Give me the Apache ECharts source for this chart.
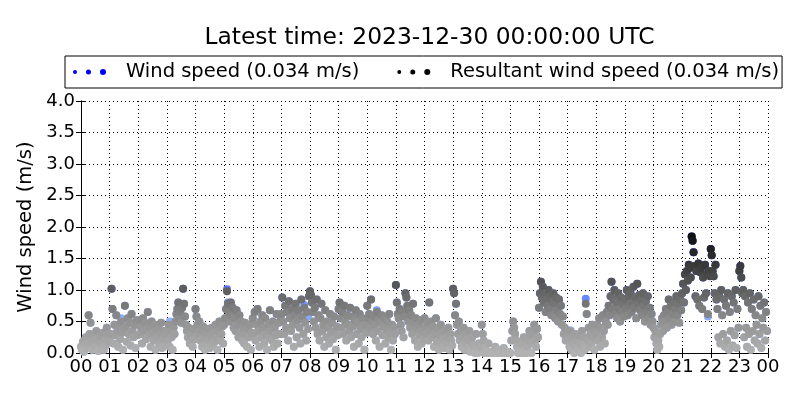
<!DOCTYPE html>
<html>
<head>
<meta charset="utf-8">
<script src="https://cdn.jsdelivr.net/npm/echarts@6/dist/echarts.min.js"></script>
<style>html,body{margin:0;padding:0;background:#fff}#c{width:800px;height:400px}</style>
</head>
<body>
<div id="c"></div>
<script>
// Tick labels (hours, UTC)
const hourTicks = ['00','01','02','03','04','05','06','07','08','09','10','11','12','13','14','15','16','17','18','19','20','21','22','23','00'];
const yTicks = [0, 0.5, 1.0, 1.5, 2.0, 2.5, 3.0, 3.5, 4.0];
const samplesPerHour = 30;

// Resultant wind speed (m/s), 30 samples per hour, one row per hour 00 .. 23
const resultantSpeed = [
  0.10,0.05,0.18,0.02,0.12,0.25,0.08,0.15,0.60,0.30,0.48,0.20,0.05,0.28,0.12,0.22,0.35,0.10,0.03,0.18,0.26,0.08,0.15,0.32,0.05,0.20,0.12,0.40,0.28,0.18,
  0.20,0.30,1.02,0.70,0.15,0.45,0.28,0.60,0.35,0.10,0.40,0.22,0.50,0.32,0.05,0.38,0.75,0.42,0.18,0.55,0.30,0.48,0.12,0.62,0.35,0.25,0.45,0.08,0.52,0.28,
  0.45,0.52,0.30,0.40,0.15,0.55,0.35,0.48,0.22,0.38,0.65,0.28,0.42,0.10,0.50,0.32,0.20,0.45,0.05,0.35,0.25,0.40,0.15,0.30,0.48,0.08,0.22,0.35,0.12,0.28,
  0.30,0.20,0.45,0.10,0.35,0.25,0.05,0.40,0.30,0.50,0.62,0.70,0.80,0.55,0.65,0.48,0.72,1.02,0.78,0.58,0.45,0.35,0.25,0.40,0.15,0.30,0.20,0.10,0.38,0.22,
  0.70,0.58,0.45,0.30,0.50,0.20,0.35,0.10,0.42,0.25,0.05,0.30,0.15,0.38,0.22,0.08,0.28,0.40,0.12,0.32,0.18,0.45,0.25,0.05,0.35,0.50,0.20,0.30,0.42,0.15,
  0.45,0.55,0.70,0.98,0.78,0.65,0.50,0.80,0.60,0.72,0.40,0.55,0.35,0.68,0.45,0.25,0.60,0.30,0.50,0.20,0.40,0.15,0.48,0.30,0.10,0.38,0.25,0.45,0.05,0.32,
  0.55,0.30,0.65,0.20,0.45,0.70,0.35,0.10,0.50,0.25,0.60,0.40,0.15,0.55,0.30,0.05,0.45,0.25,0.68,0.35,0.20,0.50,0.10,0.40,0.28,0.62,0.15,0.48,0.30,0.58,
  0.62,0.88,0.50,0.30,0.75,0.40,0.65,0.20,0.82,0.55,0.35,0.70,0.45,0.10,0.60,0.78,0.25,0.52,0.68,0.40,0.15,0.85,0.58,0.30,0.72,0.48,0.20,0.65,0.38,0.90,
  0.98,0.92,0.80,0.65,0.50,0.72,0.40,0.85,0.30,0.60,0.20,0.55,0.78,0.35,0.45,0.10,0.68,0.25,0.50,0.40,0.15,0.62,0.30,0.48,0.22,0.58,0.35,0.05,0.42,0.28,
  0.70,0.80,0.55,0.40,0.65,0.30,0.75,0.50,0.20,0.60,0.45,0.35,0.72,0.25,0.58,0.42,0.10,0.52,0.68,0.30,0.48,0.15,0.62,0.38,0.25,0.55,0.40,0.05,0.45,0.32,
  0.75,0.55,0.62,0.40,0.85,0.50,0.30,0.58,0.45,0.20,0.65,0.35,0.52,0.10,0.48,0.60,0.28,0.42,0.55,0.15,0.38,0.50,0.25,0.62,0.32,0.05,0.45,0.20,0.40,0.30,
  1.08,0.80,0.62,0.55,0.70,0.45,0.35,0.65,0.25,0.58,0.95,0.88,0.75,0.50,0.68,0.40,0.60,0.30,0.78,0.48,0.20,0.55,0.38,0.10,0.45,0.28,0.52,0.15,0.35,0.22,
  0.55,0.40,0.30,0.48,0.20,0.80,0.35,0.50,0.25,0.42,0.10,0.30,0.55,0.18,0.38,0.05,0.28,0.45,0.12,0.32,0.22,0.08,0.35,0.15,0.25,0.40,0.05,0.30,0.20,0.12,
  1.02,0.95,0.60,0.78,0.45,0.30,0.50,0.20,0.35,0.10,0.25,0.40,0.05,0.30,0.15,0.22,0.08,0.35,0.02,0.18,0.25,0.05,0.12,0.00,0.30,0.08,0.00,0.15,0.02,0.10,
  0.45,0.30,0.20,0.00,0.05,0.00,0.00,0.15,0.00,0.00,0.02,0.00,0.00,0.00,0.10,0.00,0.00,0.00,0.05,0.00,0.00,0.00,0.00,0.08,0.00,0.00,0.00,0.02,0.00,0.00,
  0.00,0.20,0.35,0.50,0.40,0.30,0.20,0.10,0.00,0.05,0.00,0.00,0.15,0.00,0.25,0.00,0.05,0.00,0.10,0.20,0.35,0.28,0.00,0.15,0.30,0.45,0.20,0.10,0.38,0.25,
  0.72,0.95,1.13,0.88,1.05,0.80,0.92,0.65,0.85,0.75,1.00,0.70,0.90,0.60,0.82,0.95,0.78,0.55,0.88,0.68,0.50,0.85,0.62,0.75,0.45,0.58,0.30,0.40,0.20,0.35,
  0.30,0.20,0.10,0.35,0.05,0.25,0.15,0.00,0.30,0.10,0.20,0.05,0.28,0.15,0.00,0.35,0.10,0.25,0.05,0.78,0.62,0.20,0.40,0.10,0.30,0.15,0.45,0.25,0.05,0.35,
  0.30,0.45,0.20,0.55,0.10,0.40,0.25,0.60,0.35,0.15,0.50,0.65,0.45,0.75,0.60,0.90,1.13,0.70,0.85,1.00,0.62,0.80,0.55,0.95,0.70,0.50,0.88,0.65,0.78,0.58,
  0.85,0.70,1.00,0.60,0.90,0.75,0.95,0.65,0.80,1.05,0.72,0.88,0.55,1.10,0.78,0.92,0.68,0.85,0.60,0.95,0.75,0.50,0.82,0.65,0.90,0.55,0.72,0.45,0.62,0.50,
  0.40,0.25,0.35,0.15,0.05,0.20,0.10,0.30,0.45,0.55,0.35,0.60,0.50,0.70,0.40,0.65,0.85,0.55,0.75,0.45,0.62,0.80,0.50,0.70,0.90,0.60,0.78,0.48,0.85,0.68,
  0.95,1.10,0.80,1.25,1.00,1.30,1.15,1.40,1.35,1.20,1.85,1.78,1.60,1.38,0.90,1.30,0.85,1.42,0.75,1.28,1.35,0.70,1.20,0.88,1.40,0.95,1.25,0.62,1.30,1.22,
  1.65,1.55,1.30,1.22,0.95,1.40,0.85,0.70,0.25,0.90,0.15,1.00,0.60,0.30,0.85,0.10,0.75,0.20,0.95,0.05,0.65,0.35,0.90,0.12,0.80,0.28,1.00,0.08,0.70,0.40,
  1.30,1.38,1.20,0.95,1.00,0.25,0.90,0.40,0.10,0.80,0.30,0.95,0.05,0.70,0.35,0.85,0.20,0.60,0.45,0.15,0.90,0.30,0.75,0.08,0.55,0.40,0.80,0.20,0.65,0.35
];

// Wind speed (m/s), 30 samples per hour, one row per hour 00 .. 23
const windSpeed = [
  0.10,0.05,0.18,0.02,0.12,0.25,0.08,0.15,0.60,0.30,0.48,0.20,0.05,0.28,0.12,0.22,0.35,0.10,0.03,0.18,0.26,0.08,0.15,0.32,0.05,0.20,0.12,0.40,0.28,0.18,
  0.20,0.30,1.02,0.70,0.15,0.45,0.28,0.60,0.35,0.10,0.40,0.22,0.55,0.32,0.05,0.38,0.75,0.42,0.18,0.55,0.30,0.48,0.12,0.62,0.35,0.25,0.45,0.08,0.52,0.28,
  0.45,0.52,0.30,0.40,0.15,0.55,0.35,0.48,0.22,0.38,0.65,0.28,0.42,0.10,0.50,0.32,0.20,0.45,0.05,0.35,0.25,0.40,0.15,0.30,0.48,0.08,0.22,0.35,0.12,0.28,
  0.30,0.20,0.45,0.50,0.35,0.25,0.05,0.40,0.30,0.50,0.62,0.70,0.80,0.55,0.65,0.48,0.72,1.02,0.78,0.58,0.45,0.35,0.25,0.40,0.15,0.30,0.38,0.10,0.38,0.22,
  0.70,0.58,0.45,0.30,0.50,0.20,0.35,0.10,0.42,0.25,0.05,0.30,0.15,0.38,0.22,0.08,0.28,0.40,0.12,0.32,0.18,0.45,0.25,0.05,0.35,0.50,0.20,0.30,0.42,0.15,
  0.45,0.55,0.70,1.01,0.80,0.65,0.50,0.80,0.60,0.72,0.40,0.55,0.35,0.68,0.45,0.25,0.60,0.30,0.50,0.20,0.40,0.15,0.48,0.30,0.10,0.38,0.25,0.45,0.05,0.32,
  0.55,0.30,0.65,0.20,0.45,0.70,0.35,0.10,0.50,0.25,0.60,0.40,0.15,0.55,0.30,0.05,0.45,0.25,0.68,0.35,0.27,0.50,0.10,0.40,0.28,0.62,0.15,0.48,0.30,0.58,
  0.62,0.88,0.50,0.30,0.75,0.40,0.65,0.20,0.82,0.55,0.35,0.70,0.45,0.10,0.60,0.78,0.25,0.52,0.68,0.40,0.15,0.85,0.58,0.30,0.76,0.48,0.20,0.65,0.58,0.90,
  0.98,0.92,0.80,0.65,0.50,0.72,0.40,0.85,0.30,0.60,0.20,0.55,0.78,0.35,0.45,0.10,0.68,0.25,0.50,0.40,0.15,0.62,0.30,0.48,0.22,0.58,0.35,0.05,0.42,0.28,
  0.70,0.80,0.55,0.40,0.65,0.62,0.75,0.50,0.20,0.60,0.45,0.35,0.72,0.25,0.58,0.42,0.10,0.52,0.68,0.30,0.48,0.15,0.62,0.38,0.25,0.55,0.40,0.05,0.45,0.32,
  0.75,0.55,0.62,0.40,0.85,0.50,0.30,0.58,0.45,0.20,0.68,0.35,0.52,0.10,0.48,0.60,0.28,0.42,0.55,0.15,0.38,0.50,0.25,0.62,0.32,0.05,0.45,0.20,0.40,0.30,
  1.08,0.80,0.62,0.55,0.70,0.45,0.35,0.65,0.25,0.58,0.95,0.88,0.75,0.50,0.68,0.40,0.60,0.55,0.78,0.48,0.20,0.55,0.38,0.10,0.45,0.28,0.52,0.15,0.35,0.22,
  0.55,0.40,0.30,0.48,0.20,0.80,0.35,0.50,0.25,0.42,0.10,0.30,0.55,0.18,0.38,0.05,0.28,0.45,0.12,0.32,0.22,0.08,0.35,0.15,0.25,0.40,0.22,0.30,0.20,0.12,
  1.02,0.95,0.60,0.78,0.45,0.30,0.50,0.20,0.35,0.10,0.25,0.40,0.05,0.30,0.15,0.22,0.08,0.35,0.02,0.18,0.25,0.05,0.12,0.00,0.30,0.08,0.00,0.15,0.02,0.10,
  0.45,0.30,0.20,0.00,0.05,0.00,0.00,0.15,0.00,0.00,0.02,0.00,0.00,0.00,0.10,0.00,0.00,0.00,0.05,0.00,0.00,0.00,0.00,0.08,0.00,0.00,0.00,0.02,0.00,0.00,
  0.00,0.20,0.35,0.50,0.40,0.30,0.20,0.10,0.00,0.05,0.00,0.00,0.15,0.00,0.25,0.00,0.05,0.24,0.10,0.20,0.35,0.28,0.00,0.15,0.30,0.45,0.20,0.10,0.38,0.25,
  0.72,0.95,1.13,0.88,1.05,0.80,0.92,0.65,0.85,0.75,1.00,0.70,0.90,0.60,0.82,0.95,0.78,0.55,0.88,0.68,0.50,0.85,0.62,0.75,0.45,0.58,0.30,0.40,0.20,0.35,
  0.30,0.20,0.10,0.36,0.05,0.25,0.15,0.00,0.30,0.10,0.20,0.05,0.28,0.15,0.00,0.35,0.10,0.25,0.05,0.86,0.62,0.20,0.40,0.10,0.30,0.15,0.45,0.25,0.05,0.35,
  0.30,0.45,0.20,0.55,0.10,0.40,0.25,0.60,0.35,0.15,0.50,0.65,0.45,0.75,0.60,0.90,1.13,0.70,0.85,1.00,0.62,0.80,0.55,0.95,0.70,0.50,0.88,0.65,0.78,0.58,
  0.85,0.70,1.00,0.60,0.90,0.75,0.95,0.65,0.80,1.05,0.72,0.88,0.55,1.10,0.78,0.92,0.68,0.85,0.60,0.95,0.75,0.50,0.82,0.65,0.90,0.55,0.72,0.45,0.62,0.50,
  0.40,0.25,0.35,0.15,0.05,0.20,0.10,0.30,0.45,0.55,0.35,0.60,0.50,0.70,0.40,0.65,0.85,0.55,0.75,0.45,0.62,0.80,0.50,0.70,0.90,0.60,0.78,0.48,0.85,0.68,
  0.95,1.10,0.80,1.25,1.00,1.30,1.15,1.40,1.35,1.20,1.85,1.78,1.60,1.38,0.90,1.30,0.85,1.42,0.75,1.28,1.35,0.70,1.20,0.88,1.40,0.95,1.25,0.58,1.30,1.30,
  1.65,1.55,1.30,1.22,0.95,1.40,0.85,0.70,0.25,0.90,0.15,1.00,0.60,0.30,0.85,0.10,0.75,0.20,0.95,0.05,0.65,0.35,0.90,0.12,0.80,0.28,1.00,0.08,0.70,0.40,
  1.30,1.38,1.20,0.95,1.00,0.25,0.90,0.40,0.10,0.80,0.30,0.95,0.05,0.70,0.35,0.85,0.20,0.60,0.45,0.15,0.90,0.30,0.75,0.08,0.55,0.40,0.80,0.20,0.65,0.35
];

const titleText = 'Latest time: 2023-12-30 00:00:00 UTC';
const windName = 'Wind speed (0.034 m/s)';
const resultantName = 'Resultant wind speed (0.034 m/s)';

const toPairs = arr => arr.map((v, i) => [i / samplesPerHour, v]);
const font = 'DejaVu Sans';
const threeDots = 'path://M0,4a2,2 0 1,0 4,0a2,2 0 1,0 -4,0M13,4a2.5,2.5 0 1,0 5,0a2.5,2.5 0 1,0 -5,0M27,4a3,3 0 1,0 6,0a3,3 0 1,0 -6,0';

const chart = echarts.init(document.getElementById('c'), null, {renderer: 'canvas'});
const xBase = {type: 'value', min: 0, max: 24, interval: 1};
const yBase = {type: 'value', min: 0, max: 4, interval: 0.5};
chart.setOption({
  animation: false,
  backgroundColor: '#fff',
  title: {
    text: titleText, left: 424.5, textAlign: 'center', top: 21,
    textStyle: {fontFamily: font, fontSize: 23.4, fontWeight: 'normal', color: '#000'}
  },
  legend: {
    left: 65, top: 56, padding: [6, 3, 6, 8], itemGap: 38,
    itemWidth: 33, itemHeight: 7, selectedMode: false,
    borderColor: '#000', borderWidth: 1, backgroundColor: '#fff',
    textStyle: {fontFamily: font, fontSize: 19.5, color: '#000', padding: [0, 0, 0, 15]},
    data: [
      {name: windName, icon: threeDots, itemStyle: {color: '#0000ff'}},
      {name: resultantName, icon: threeDots, itemStyle: {color: '#000000'}}
    ]
  },
  grid: {left: 81, right: 32, top: 101, bottom: 47},
  visualMap: [
    {type: 'continuous', show: false, seriesIndex: 0, dimension: 1, min: 0, max: 1.9,
     inRange: {color: ['#b8d0ff', '#94b4ff', '#5a7cff', '#2a40ff', '#0010ff']}},
    {type: 'continuous', show: false, seriesIndex: 1, dimension: 1, min: 0, max: 1.9,
     inRange: {color: ['#b2b2b2', '#939393', '#646464', '#363636', '#0c0c0c']}}
  ],
  xAxis: [
    Object.assign({}, xBase, {
      position: 'bottom',
      axisLine: {lineStyle: {color: '#000', width: 1}},
      axisTick: {inside: true, length: 5, lineStyle: {color: '#000'}},
      axisLabel: {fontFamily: font, fontSize: 18, color: '#000', margin: 5,
        formatter: v => hourTicks[Math.round(v)]},
      splitLine: {show: true, lineStyle: {color: '#000', type: [1, 3], width: 1}}
    }),
    Object.assign({}, xBase, {
      position: 'top',
      axisLine: {lineStyle: {color: '#000', width: 1}},
      axisTick: {inside: true, length: 5, lineStyle: {color: '#000'}},
      axisLabel: {show: false}, splitLine: {show: false}
    })
  ],
  yAxis: [
    Object.assign({}, yBase, {
      position: 'left',
      name: 'Wind speed (m/s)', nameLocation: 'middle', nameGap: 42,
      nameTextStyle: {fontFamily: font, fontSize: 19.5, color: '#000'},
      axisLine: {show: true, lineStyle: {color: '#000', width: 1}},
      axisTick: {show: true, inside: true, length: 5, lineStyle: {color: '#000'}},
      axisLabel: {fontFamily: font, fontSize: 18, color: '#000', margin: 6,
        formatter: v => { const t = yTicks.find(k => Math.abs(k - v) < 1e-6); return (t === undefined ? v : t).toFixed(1); }},
      splitLine: {show: true, lineStyle: {color: '#000', type: [1, 3], width: 1}}
    }),
    Object.assign({}, yBase, {
      position: 'right',
      axisLine: {show: true, lineStyle: {color: '#000', width: 1}},
      axisTick: {show: true, inside: true, length: 5, lineStyle: {color: '#000'}},
      axisLabel: {show: false}, splitLine: {show: false}
    })
  ],
  series: [
    {name: windName, type: 'scatter', xAxisIndex: 0, yAxisIndex: 0, symbolSize: 8,
     itemStyle: {color: '#0000ff', opacity: 1}, emphasis: {disabled: true},
     data: toPairs(windSpeed)},
    {name: resultantName, type: 'scatter', xAxisIndex: 0, yAxisIndex: 0, symbolSize: 8,
     itemStyle: {color: '#000000', opacity: 1}, emphasis: {disabled: true},
     data: toPairs(resultantSpeed)}
  ]
});
</script>
</body>
</html>
